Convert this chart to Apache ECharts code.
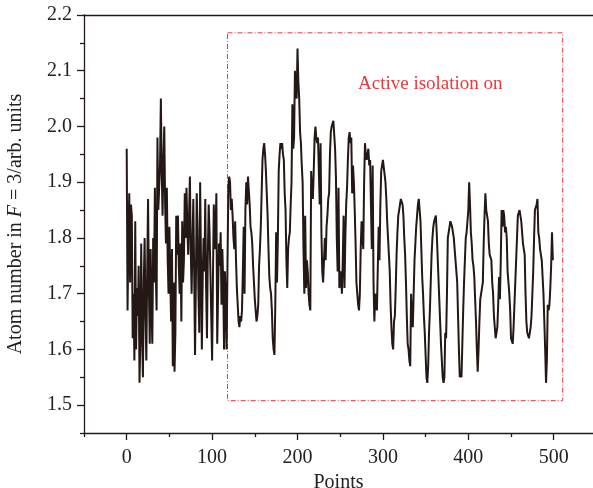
<!DOCTYPE html>
<html>
<head>
<meta charset="utf-8">
<script src="https://cdn.jsdelivr.net/npm/echarts@6/dist/echarts.min.js"></script>
<style>
  html, body { margin: 0; padding: 0; background: #fff; }
  #main { width: 593px; height: 488px; }
</style>
</head>
<body>
<div id="main"></div>
<script>
// atom number, one value per point (0..499)
var atomNum = [
  1.96, 1.67, 1.80, 1.88, 1.72, 1.86, 1.84, 1.62, 1.70, 1.58,
  1.83, 1.60, 1.71, 1.66, 1.75, 1.54, 1.62, 1.79, 1.63, 1.55,
  1.72, 1.80, 1.66, 1.58, 1.74, 1.87, 1.71, 1.61, 1.78, 1.68,
  1.61, 1.80, 1.72, 1.89, 1.74, 1.67, 1.98, 1.85, 1.89, 1.93,
  2.05, 1.92, 1.84, 1.94, 2.00, 1.86, 1.79, 1.89, 1.76, 1.70,
  1.82, 1.73, 1.65, 1.78, 1.57, 1.72, 1.56, 1.63, 1.84, 1.77,
  1.84, 1.75, 1.70, 1.79, 1.65, 1.83, 1.72, 1.76, 1.88, 1.80,
  1.89, 1.82, 1.77, 1.84, 1.91, 1.78, 1.70, 1.79, 1.87, 1.74,
  1.59, 1.72, 1.88, 1.82, 1.70, 1.63, 1.90, 1.76, 1.60, 1.73,
  1.80, 1.74, 1.87, 1.71, 1.62, 1.77, 1.86, 1.81, 1.74, 1.66,
  1.58, 1.73, 1.86, 1.78, 1.81, 1.88, 1.61, 1.70, 1.79, 1.75,
  1.81, 1.68, 1.78, 1.72, 1.60, 1.74, 1.69, 1.60, 1.75, 1.89,
  1.91, 1.90, 1.85, 1.87, 1.84, 1.80, 1.78, 1.83, 1.76, 1.71,
  1.68, 1.65, 1.64, 1.66, 1.65, 1.67, 1.74, 1.82, 1.70, 1.85,
  1.90, 1.86, 1.91, 1.91, 1.86, 1.82, 1.81, 1.79, 1.75, 1.72,
  1.69, 1.67, 1.65, 1.66, 1.68, 1.75, 1.78, 1.82, 1.88, 1.94,
  1.96, 1.97, 1.95, 1.92, 1.88, 1.84, 1.78, 1.73, 1.71, 1.70,
  1.67, 1.62, 1.60, 1.59, 1.68, 1.81, 1.72, 1.80, 1.92, 1.95,
  1.97, 1.96, 1.97, 1.95, 1.94, 1.88, 1.85, 1.76, 1.71, 1.78,
  1.80, 1.81, 1.86, 1.90, 2.04, 1.96, 1.98, 2.10, 2.06, 2.05,
  2.14, 2.08, 2.05, 1.99, 1.97, 1.93, 1.90, 1.78, 1.70, 1.84,
  1.71, 1.76, 1.74, 1.70, 1.68, 1.67, 1.92, 1.88, 1.87, 1.92,
  1.98, 2.00, 1.98, 1.97, 1.98, 1.92, 1.86, 1.97, 1.81, 1.74,
  1.72, 1.76, 1.80, 1.76, 1.82, 1.84, 1.87, 1.88, 1.95, 1.99,
  2.00, 2.00, 2.01, 2.01, 1.96, 1.91, 1.80, 1.74, 1.89, 1.71,
  1.72, 1.74, 1.70, 1.76, 1.84, 1.71, 1.80, 1.86, 1.89, 1.94,
  1.98, 1.99, 1.97, 1.98, 1.88, 1.93, 1.90, 1.85, 1.79, 1.72,
  1.70, 1.68, 1.67, 1.70, 1.78, 1.83, 1.80, 1.78, 1.90, 1.97,
  1.95, 1.94, 1.95, 1.96, 1.93, 1.94, 1.86, 1.78, 1.93, 1.72,
  1.65, 1.70, 1.68, 1.67, 1.67, 1.82, 1.76, 1.86, 1.92, 1.93,
  1.94, 1.94, 1.94, 1.90, 1.87, 1.83, 1.80, 1.77, 1.74, 1.68,
  1.64, 1.61, 1.60, 1.65, 1.66, 1.71, 1.77, 1.81, 1.84, 1.85,
  1.86, 1.87, 1.87, 1.86, 1.84, 1.80, 1.77, 1.72, 1.66, 1.61,
  1.60, 1.58, 1.57, 1.70, 1.66, 1.64, 1.70, 1.76, 1.79, 1.82,
  1.84, 1.86, 1.87, 1.85, 1.83, 1.78, 1.73, 1.70, 1.66, 1.63,
  1.59, 1.55, 1.54, 1.57, 1.63, 1.67, 1.72, 1.77, 1.80, 1.82,
  1.83, 1.83, 1.84, 1.81, 1.77, 1.73, 1.69, 1.65, 1.61, 1.58,
  1.55, 1.54, 1.55, 1.63, 1.62, 1.70, 1.80, 1.81, 1.82, 1.83,
  1.83, 1.82, 1.82, 1.80, 1.78, 1.76, 1.74, 1.72, 1.66, 1.60,
  1.55, 1.56, 1.55, 1.61, 1.67, 1.72, 1.76, 1.80, 1.81, 1.81,
  1.85, 1.90, 1.86, 1.81, 1.79, 1.76, 1.75, 1.73, 1.69, 1.65,
  1.60, 1.56, 1.60, 1.65, 1.69, 1.70, 1.71, 1.72, 1.79, 1.84,
  1.88, 1.85, 1.84, 1.83, 1.79, 1.77, 1.77, 1.76, 1.72, 1.70,
  1.66, 1.64, 1.62, 1.62, 1.64, 1.68, 1.73, 1.69, 1.76, 1.85,
  1.82, 1.85, 1.84, 1.81, 1.82, 1.80, 1.74, 1.72, 1.70, 1.67,
  1.62, 1.62, 1.61, 1.64, 1.68, 1.72, 1.76, 1.80, 1.84, 1.84,
  1.85, 1.84, 1.83, 1.81, 1.79, 1.78, 1.77, 1.70, 1.65, 1.63,
  1.63, 1.62, 1.62, 1.64, 1.66, 1.70, 1.74, 1.80, 1.85, 1.85,
  1.86, 1.87, 1.81, 1.80, 1.78, 1.78, 1.76, 1.73, 1.70, 1.65,
  1.60, 1.54, 1.58, 1.68, 1.67, 1.68, 1.71, 1.75, 1.81, 1.76
];
var xTicks = [0, 100, 200, 300, 400, 500];
var xMinorTicks = [-50, 50, 150, 250, 350, 450, 550];
var yTicks = [1.5, 1.6, 1.7, 1.8, 1.9, 2.0, 2.1, 2.2];
var yMinorTicks = [1.45, 1.55, 1.65, 1.75, 1.85, 1.95, 2.05, 2.15];
// dashed box: [x0, y0], [x1, y1]
var boxFrom = [118, 2.168];
var boxTo = [510.5, 1.508];
var boxText = 'Active isolation on';

var axisColor = '#231815';
var serif = '"Liberation Serif", "DejaVu Serif", serif';

var seriesData = [];
for (var i = 0; i < atomNum.length; i++) {
    seriesData.push([i, atomNum[i]]);
}

var myChart = echarts.init(document.getElementById('main'));
var option = {
    animation: false,
    grid: {
        left: 84,
        right: 0,
        top: 15,
        bottom: 55,
        outerBoundsMode: 'none'
    },
    xAxis: [{
        type: 'value',
        min: -50,
        max: 546,
        position: 'bottom',
        splitLine: { show: false },
        axisLine: { onZero: false, lineStyle: { color: axisColor, width: 1.3 } },
        axisTick: {
            customValues: xTicks,
            inside: false,
            length: 7,
            lineStyle: { color: axisColor, width: 1.3 }
        },
        axisLabel: {
            customValues: xTicks,
            margin: 15,
            color: '#222',
            fontFamily: serif,
            fontSize: 20
        },
        name: 'Points',
        nameLocation: 'middle',
        nameGap: 37,
        nameTextStyle: { color: '#222', fontFamily: serif, fontSize: 20 }
    }, {
        // minor ticks on the bottom
        type: 'value',
        min: -50,
        max: 546,
        position: 'bottom',
        splitLine: { show: false },
        axisLine: { show: false, onZero: false },
        axisTick: {
            customValues: xMinorTicks,
            length: 4,
            lineStyle: { color: axisColor, width: 1.3 }
        },
        axisLabel: { show: false }
    }, {
        // top frame line
        type: 'value',
        min: -50,
        max: 546,
        position: 'top',
        splitLine: { show: false },
        axisLine: { onZero: false, lineStyle: { color: axisColor, width: 1.3 } },
        axisTick: { show: false },
        axisLabel: { show: false }
    }],
    yAxis: [{
        type: 'value',
        min: 1.45,
        max: 2.2,
        position: 'left',
        splitLine: { show: false },
        axisLine: { show: true, onZero: false, lineStyle: { color: axisColor, width: 1.3 } },
        axisTick: {
            show: true,
            customValues: yTicks,
            length: 7,
            lineStyle: { color: axisColor, width: 1.3 }
        },
        axisLabel: {
            customValues: yTicks,
            margin: 12,
            color: '#222',
            fontFamily: serif,
            fontSize: 20,
            formatter: function(v) { return v.toFixed(1); }
        },
        name: '{a|Atom number in }{i|F}{a| = 3/arb. units}',
        nameLocation: 'middle',
        nameGap: 58,
        nameTextStyle: {
            color: '#222',
            fontFamily: serif,
            fontSize: 20,
            rich: {
                a: { color: '#222', fontFamily: serif, fontSize: 20 },
                i: { color: '#222', fontFamily: serif, fontSize: 20, fontStyle: 'italic' }
            }
        }
    }, {
        // minor ticks on the left
        type: 'value',
        min: 1.45,
        max: 2.2,
        position: 'left',
        splitLine: { show: false },
        axisLine: { show: false, onZero: false },
        axisTick: {
            show: true,
            customValues: yMinorTicks,
            length: 4,
            lineStyle: { color: axisColor, width: 1.3 }
        },
        axisLabel: { show: false }
    }],
    graphic: [{
        type: 'text',
        left: 358,
        top: 75,
        style: {
            text: boxText,
            fill: '#e8383d',
            font: '19px ' + serif
        }
    }],
    series: [{
        name: 'atom',
        type: 'line',
        xAxisIndex: 0,
        yAxisIndex: 0,
        data: seriesData,
        showSymbol: false,
        lineStyle: { color: '#231815', width: 2 },
        markArea: {
            silent: true,
            itemStyle: {
                color: 'rgba(0,0,0,0)',
                borderColor: '#e8383d',
                borderWidth: 1,
                borderType: [5, 2, 1, 2]
            },
            data: [[{ coord: boxFrom }, { coord: boxTo }]]
        }
    }]
};
myChart.setOption(option);
</script>
</body>
</html>
